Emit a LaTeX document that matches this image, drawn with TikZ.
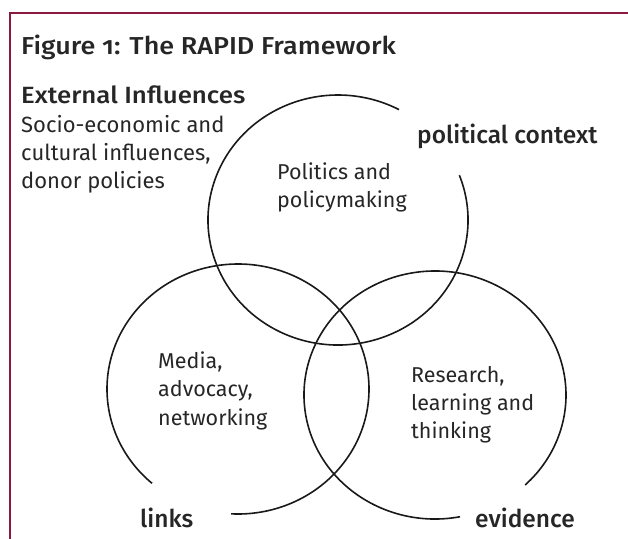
\documentclass[tikz,border=0pt]{standalone}
\usepackage{xcolor}
\usepackage{fontspec}
\setmainfont{Fira Sans}[Numbers=OldStyle]
\newfontfamily\headfont{Fira Sans Medium}[Numbers=OldStyle]
\newfontfamily\titlefont{Fira Sans Medium}[Numbers=OldStyle,FakeStretch=1.1]
\definecolor{rapidred}{HTML}{8C1A3E}
\definecolor{inktext}{HTML}{262626}
\usepackage{tikz}

\begin{document}
\begin{tikzpicture}[x=1pt,y=-1pt,
                    head/.style={anchor=base west,inner sep=0pt,text=inktext,font=\titlefont\fontsize{24.5}{28}\selectfont},
                    label/.style={anchor=base west,inner sep=0pt,text=inktext,font=\headfont\fontsize{24.5}{28}\selectfont},
                    body/.style={anchor=base west,inner sep=0pt,text=inktext,align=left,font=\fontsize{21.5}{28}\selectfont},
                    ring/.style={line width=1.6pt,color=black!90}]
                    \useasboundingbox (0,0) rectangle (628,538);
                    \draw[rapidred,line width=2pt] (9.5,540) -- (9.5,13) -- (640,13);
                    \draw[ring] (338,220) ++(-21:130 and 125) arc[start angle=-21,end angle=298,x radius=130,y radius=125];
                    \draw[ring] (238,389) ++(131:131 and 125) arc[start angle=131,end angle=453,x radius=131,y radius=125];
                    \draw[ring] (435,395) ++(79:131 and 124) arc[start angle=79,end angle=406.5,x radius=131,y radius=124];
                    \node[head] (title) at (21,54) {Figure 1: The RAPID Framework};
                    \node[head,font=\titlefont\fontsize{23.5}{28}\selectfont] (ext) at (21,103) {External Influences};
                    \node[body,font=\fontsize{22}{28}\selectfont] (extbody) at (21,188) {Socio-economic and\\cultural influences,\\donor policies};
                    \node[label] (political) at (417,143) {political context};
                    \node[body] (politics) at (277,207) {Politics and\\policymaking};
                    \node[body,font=\fontsize{21.5}{28.5}\selectfont] (media) at (158,425) {Media,\\advocacy,\\networking};
                    \node[body] (research) at (411,438) {Research,\\learning and\\thinking};
                    \node[label] (links) at (140,527) {links};
                    \node[label] (evidence) at (475,527) {evidence};
                \end{tikzpicture}
\end{document}
